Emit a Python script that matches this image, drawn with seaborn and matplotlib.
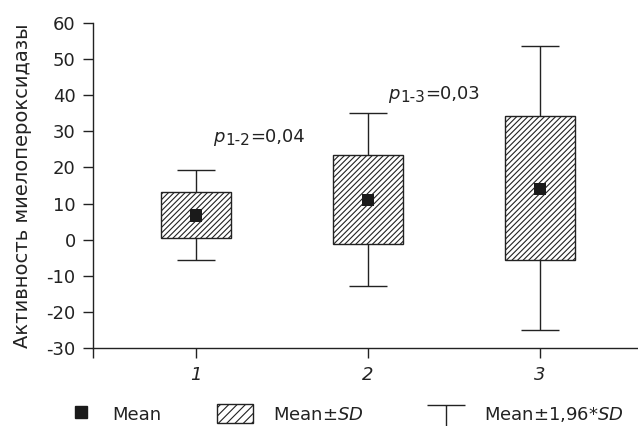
import numpy as np
import pandas as pd
import seaborn as sns
import matplotlib
matplotlib.use("Agg")
from matplotlib import pyplot as plt
from matplotlib.lines import Line2D
from matplotlib.patches import Patch
from matplotlib.path import Path

# values
groups = [1, 2, 3]
means = [6.7, 11.0, 14.1]
sd_low = [0.45, -1.1, -5.7]      # Mean - SD
sd_high = [13.1, 23.3, 34.1]     # Mean + SD
ci_low = [-5.7, -12.8, -25.0]    # Mean - 1,96*SD
ci_high = [19.4, 35.1, 53.5]     # Mean + 1,96*SD
y_ticks = [-30, -20, -10, 0, 10, 20, 30, 40, 50, 60]
x_ticks = [0.403, 1, 2, 3]
x_labels = ["", "1", "2", "3"]

df = pd.DataFrame({"group": groups, "mean": means})

sns.set_style("ticks")
plt.rcParams["font.family"] = ["DejaVu Sans"]
plt.rcParams["axes.unicode_minus"] = False
plt.rcParams["hatch.linewidth"] = 0.8

ink = "#222222"
fig = plt.figure(figsize=(6.38, 4.26), dpi=100)
ax = fig.add_axes([0.1463, 0.1824, 0.8537, 0.7643])

# whiskers (Mean ± 1,96*SD)
for g, lo, hi in zip(groups, ci_low, ci_high):
    ax.vlines(g, lo, hi, color=ink, lw=1, zorder=1)
    ax.hlines([lo, hi], g - 0.11, g + 0.11, color=ink, lw=1, zorder=1)

# boxes (Mean ± SD)
heights = np.array(sd_high) - np.array(sd_low)
ax.bar(groups, heights, bottom=sd_low, width=0.41, color="white",
       edgecolor=ink, hatch="//////", lw=1, zorder=2)

# mean markers
sns.scatterplot(data=df, x="group", y="mean", marker="s", s=81,
                color="#1a1a1a", edgecolor="none", zorder=3, ax=ax, legend=False)

ax.set_xlim(0.403, 3.57)
ax.set_ylim(-30, 60)
ax.set_xticks(x_ticks)
ax.set_xticklabels(x_labels, fontstyle="italic")
ax.set_yticks(y_ticks)
ax.tick_params(axis="both", labelsize=13, length=7.2, width=1, color=ink,
               labelcolor=ink, pad=5.5)
ax.set_xlabel("")
ax.set_ylabel("Активность миелопероксидазы", fontsize=14, color=ink)
ax.yaxis.set_label_coords(-0.112, 0.5)
for side in ["left", "bottom"]:
    ax.spines[side].set_color(ink)
    ax.spines[side].set_linewidth(1)
sns.despine(ax=ax)


def p_label(x, y, sub, rest):
    t1 = ax.text(x, y, "p", fontsize=13, fontstyle="italic", color=ink,
                 va="baseline")
    t2 = ax.annotate(sub, xy=(1, 0), xycoords=(t1, t1), xytext=(0.6, -1.7),
                     textcoords="offset points", fontsize=11, color=ink,
                     va="bottom")
    ax.annotate(rest, xy=(1, 0), xycoords=(t2, t1), xytext=(0, 0),
                textcoords="offset points", fontsize=13, color=ink,
                va="bottom")


p_label(1.097, 27.0, "1-2", "=0,04")
p_label(2.116, 39.0, "1-3", "=0,03")

# legend, one entry at a time so each sits where the reference has it
t_path = Path([(-1, 0.37), (1, 0.37), (0, 0.37), (0, -1)],
              [Path.MOVETO, Path.LINETO, Path.MOVETO, Path.LINETO])
entries = [
    (Line2D([], [], marker="s", color="#1a1a1a", linestyle="none",
            markersize=9), "Mean", 63, 0.72),
    (Patch(facecolor="white", edgecolor=ink, hatch="////", lw=1),
     r"Mean±$\it{SD}$", 217, 1.1),
    (Line2D([], [], marker=t_path, markersize=27.4, linestyle="none",
            markerfacecolor="none", markeredgecolor=ink, markeredgewidth=1),
     r"Mean±1,96*$\it{SD}$", 428, 1.1),
]
for handle, label, x_px, pad in entries:
    leg = fig.legend([handle], [label], loc="center left",
                     bbox_to_anchor=(x_px / 638, 12 / 426), frameon=False,
                     fontsize=13, handlelength=2.0, handleheight=1.2,
                     handletextpad=pad, borderpad=0, borderaxespad=0)
    for txt in leg.get_texts():
        txt.set_color(ink)

fig.savefig("out.png", dpi=100)
